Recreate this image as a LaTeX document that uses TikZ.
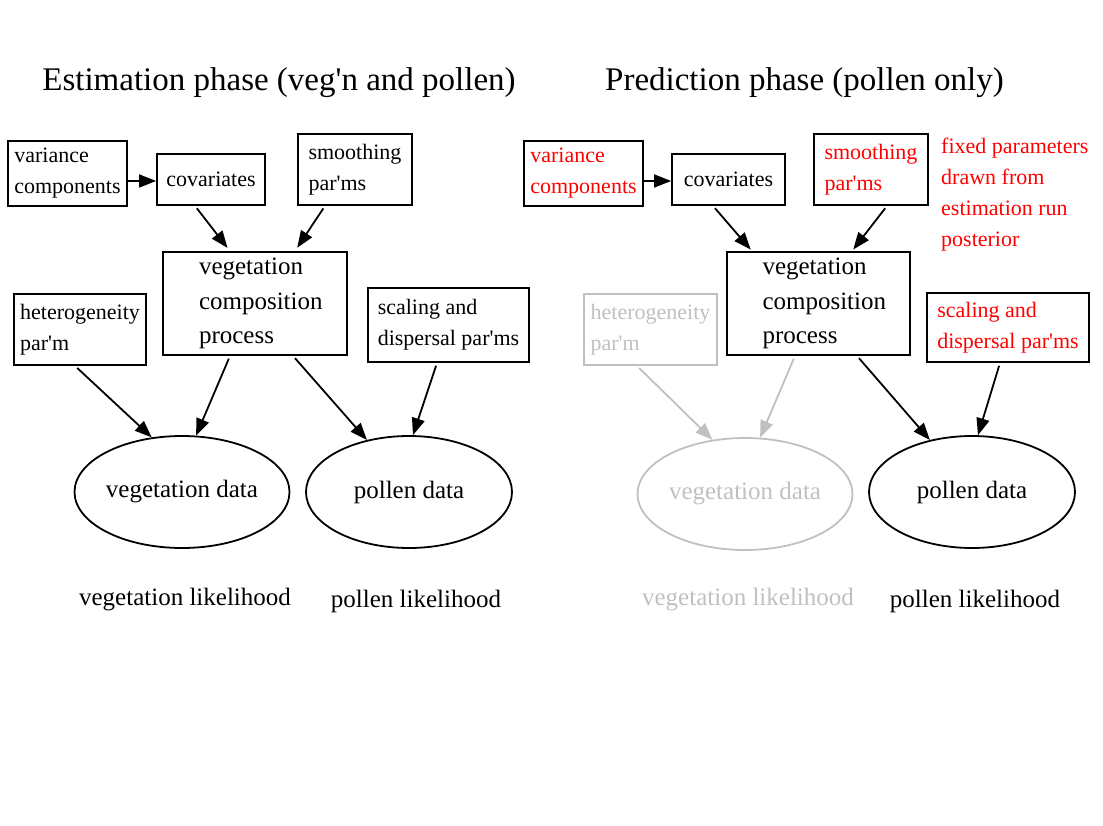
\documentclass[tikz,border=0pt]{standalone}
\usepackage{fontspec}
\setmainfont{Liberation Serif}
\usetikzlibrary{shapes.geometric,arrows.meta}
\definecolor{fixedred}{RGB}{255,0,0}
\definecolor{unusedgray}{RGB}{192,192,192}
\newcommand{\parmfont}{\fontsize{22}{31}\selectfont}
\newcommand{\procfont}{\fontsize{25}{34.5}\selectfont}
\newcommand{\phasefont}{\fontsize{33}{40}\selectfont}
\newcommand{\apos}{\textquotesingle}

\begin{document}
\begin{tikzpicture}[x=1pt, y=-1pt,
  parm/.style={draw, line width=1.8pt, align=left, inner sep=0pt, font=\parmfont},
  proc/.style={draw, line width=1.8pt, align=left, inner sep=0pt, font=\procfont, text width=112, minimum width=184, minimum height=103},
  data/.style={draw, ellipse, line width=1.8pt, inner sep=0pt, minimum width=206, minimum height=112, font=\procfont},
  lik/.style={font=\procfont},
  phase/.style={font=\phasefont, anchor=base},
  link/.style={line width=1.8pt, -{Triangle[length=17pt,width=13pt]}, shorten <=3pt},
  fixed/.style={text=fixedred},
  unused/.style={draw=unusedgray, text=unusedgray}]
\useasboundingbox (0,0) rectangle (1103,826);

% Estimation phase
\node[phase] (esttitle) at (279,91) {Estimation phase (veg\apos n and pollen)};
\node[parm, minimum width=119, minimum height=65] (var) at (67.5,173.5) {variance\\components};
\node[parm, minimum width=108, minimum height=51] (cov) at (211,179.5) {covariates};
\node[parm, minimum width=114, minimum height=71] (smooth) at (355,169.5) {smoothing\\par\apos ms};
\node[proc] (proc) at (255,303.5) {vegetation\\composition\\process};
\node[parm, minimum width=132, minimum height=71] (het) at (80,329.5) {heterogeneity\\par\apos m};
\node[parm, minimum width=161, minimum height=74] (scale) at (448.5,325) {scaling and\\dispersal par\apos ms};
\node[data] (vegdata) at (182,492) {vegetation data};
\node[data] (poldata) at (409,492) {pollen data};
\node[lik] (veglik) at (185,600) {vegetation likelihood};
\node[lik] (pollik) at (416,601) {pollen likelihood};

\draw[link, shorten <=0pt] (var.east |- 0,181) -- (cov.west |- 0,181);
\draw[link, shorten >=4pt] ([xshift=-16]cov.south) -- ([xshift=-25]proc.north);
\draw[link, shorten >=4pt] ([xshift=-30]smooth.south) -- ([xshift=40]proc.north);
\draw[link] ([xshift=-5]het.south) -- (vegdata.119);
\draw[link] ([xshift=-25]proc.south) -- (vegdata.76);
\draw[link] ([xshift=38]proc.south) -- (poldata.129);
\draw[link] ([xshift=-11.5]scale.south) -- (poldata.86);

% Prediction phase
\node[phase] (predtitle) at (804.5,91) {Prediction phase (pollen only)};
\node[parm, fixed, minimum width=119, minimum height=65] (var2) at (583.5,173.5) {variance\\components};
\node[parm, minimum width=113, minimum height=51] (cov2) at (728.5,179.5) {covariates};
\node[parm, fixed, minimum width=114, minimum height=71] (smooth2) at (871,169.5) {smoothing\\par\apos ms};
\node[font=\parmfont, fixed, align=left, anchor=north west, inner sep=0pt] (note) at (941,138) {fixed parameters\\drawn from\\estimation run\\posterior};
\node[proc, minimum width=183] (proc2) at (818.5,303.5) {vegetation\\composition\\process};
\node[parm, unused, minimum width=133, minimum height=71] (het2) at (650.5,329.5) {heterogeneity\\par\apos m};
\node[parm, fixed, minimum width=162, minimum height=69] (scale2) at (1008,327.5) {scaling and\\dispersal par\apos ms};
\node[data, unused] (vegdata2) at (745,494) {vegetation data};
\node[data] (poldata2) at (972,492) {pollen data};
\node[lik, text=unusedgray] (veglik2) at (748,600) {vegetation likelihood};
\node[lik] (pollik2) at (975,601) {pollen likelihood};

\draw[link, shorten <=0pt] (var2.east |- 0,181) -- (cov2.west |- 0,181);
\draw[link, shorten >=2pt] ([xshift=-15.5]cov2.south) -- ([xshift=-66.5]proc2.north);
\draw[link, shorten >=2pt] ([xshift=16]smooth2.south) -- ([xshift=33.5]proc2.north);
\draw[link, unusedgray] ([xshift=-13.5]het2.south) -- (vegdata2.121);
\draw[link, unusedgray] ([xshift=-23.5]proc2.south) -- (vegdata2.75);
\draw[link] ([xshift=38.5]proc2.south) -- (poldata2.129);
\draw[link] ([xshift=-8]scale2.south) -- (poldata2.84);
\end{tikzpicture}
\end{document}
